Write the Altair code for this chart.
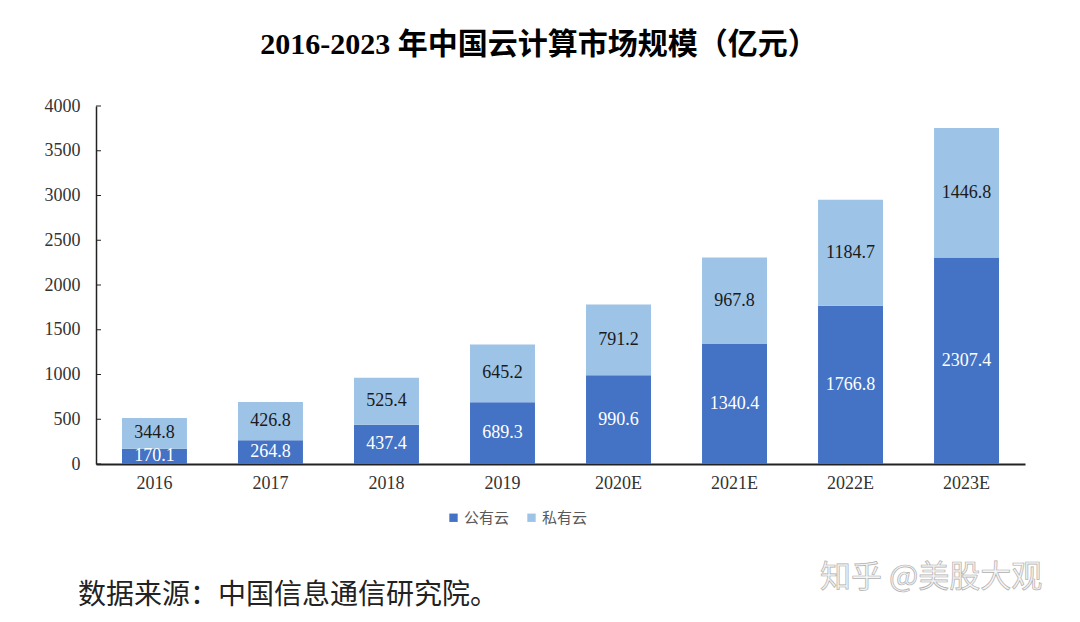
import altair as alt
import pandas as pd

years = ["2016", "2017", "2018", "2019", "2020E", "2021E", "2022E", "2023E"]
public_cloud = [170.1, 264.8, 437.4, 689.3, 990.6, 1340.4, 1766.8, 2307.4]
private_cloud = [344.8, 426.8, 525.4, 645.2, 791.2, 967.8, 1184.7, 1446.8]
series_names = ["公有云", "私有云"]
series_colors = ["#4472C4", "#9DC3E6"]
y_ticks = [0, 500, 1000, 1500, 2000, 2500, 3000, 3500, 4000]

title_text = "2016-2023 年中国云计算市场规模（亿元）"
source_text = "数据来源：中国信息通信研究院。"
watermark_text = "知乎 @美股大观"

rows = []
for i, y in enumerate(years):
    rows.append({"year": y, "series": series_names[0], "idx": 0, "value": public_cloud[i]})
    rows.append({"year": y, "series": series_names[1], "idx": 1, "value": private_cloud[i]})
df = pd.DataFrame(rows)

SERIF = "Liberation Serif, Times New Roman, serif"
CJK = "Noto Sans CJK SC"

base = alt.Chart(df).transform_stack(
    stack="value", groupby=["year"], sort=[alt.SortField("idx", order="ascending")], as_=["v0", "v1"]
).transform_calculate(mid="(datum.v0 + datum.v1) / 2")

x_enc = alt.X(
    "year:N", sort=years, title=None,
    scale=alt.Scale(paddingInner=0.44, paddingOuter=0.224),
    axis=alt.Axis(labelFont=SERIF, labelFontSize=18, labelColor="#333333", labelAngle=0,
                  labelPadding=10, ticks=False, domainColor="#222222", domainWidth=2),
)

bars = base.mark_bar().encode(
    x=x_enc,
    y=alt.Y("v0:Q", title=None,
            scale=alt.Scale(domain=[0, 4000]),
            axis=alt.Axis(values=y_ticks, format="d", labelFont=SERIF, labelFontSize=18,
                          labelColor="#333333", ticks=False, labelPadding=16, grid=False,
                          domainColor="#222222", domainWidth=1.5)),
    y2="v1:Q",
    color=alt.Color("series:N", sort=series_names,
                    scale=alt.Scale(domain=series_names, range=series_colors),
                    legend=alt.Legend(title=None, orient="none", direction="horizontal",
                                      legendX=350, legendY=404, symbolType="square", symbolSize=70,
                                      symbolStrokeWidth=0, labelFont=CJK, labelFontSize=15,
                                      labelColor="#595959", columnPadding=14, labelOffset=3)),
)

labels = base.mark_text(font=SERIF, fontSize=18, baseline="middle").encode(
    x=alt.X("year:N", sort=years),
    y=alt.Y("mid:Q"),
    text=alt.Text("value:Q", format=".1f"),
    color=alt.condition(alt.datum.series == series_names[0], alt.value("#ffffff"), alt.value("#1a1a1a")),
)

ticks_df = pd.DataFrame({"t": y_ticks})
yticks = alt.Chart(ticks_df).mark_rule(color="#222222", strokeWidth=1).encode(
    y="t:Q", x=alt.value(0), x2=alt.value(5)
)

ann = pd.DataFrame({"k": [0]})
title = alt.Chart(ann).mark_text(
    text=title_text, font="Liberation Serif, Noto Sans CJK SC", fontSize=30, fontWeight="bold",
    color="#000000", align="center", baseline="middle"
).encode(x=alt.value(443), y=alt.value(-61))

source = alt.Chart(ann).mark_text(
    text=source_text, font=CJK, fontSize=28, color="#222222", align="left", baseline="middle"
).encode(x=alt.value(-18), y=alt.value(490))

watermark = alt.Chart(ann).mark_text(
    text=watermark_text, font=CJK, fontSize=31, color="#f4f4f4", stroke="#b0b0b0", strokeWidth=0.7,
    align="left", baseline="middle"
).encode(x=alt.value(724), y=alt.value(472))

chart = alt.layer(bars, labels, yticks, title, source, watermark).properties(
    width=929, height=358,
    autosize=alt.AutoSizeParams(type="none"),
    padding={"left": 88, "top": 98, "right": 40, "bottom": 150},
    background="white",
).configure_view(stroke=None)

chart.save("out.html", embed_options={"renderer": "svg", "actions": False})
